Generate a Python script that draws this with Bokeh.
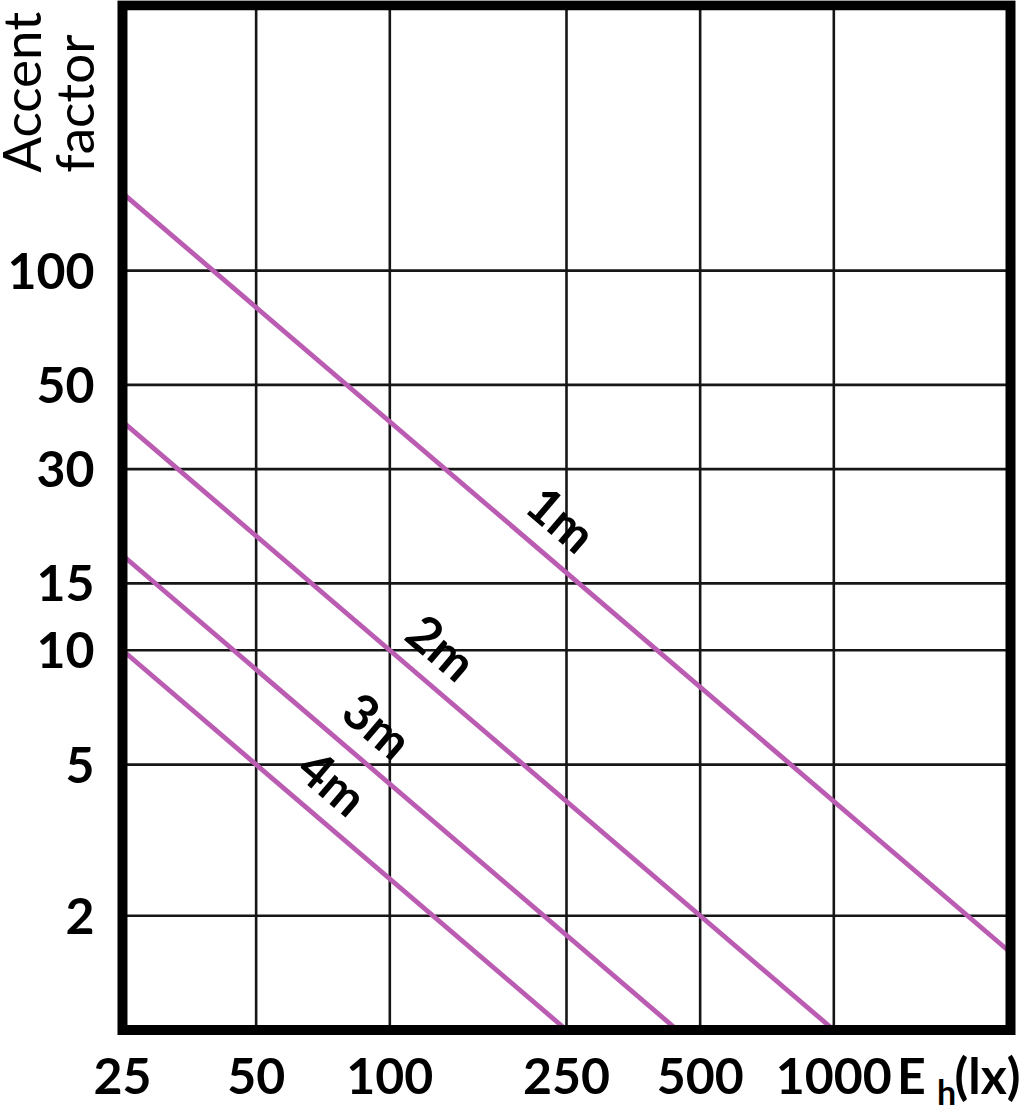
from bokeh.plotting import figure
from bokeh.models import ColumnDataSource, FixedTicker, Range1d
from bokeh.core.properties import value
from bokeh.embed import file_html
from bokeh.resources import INLINE

# ---- data ----
X_MIN, X_MAX = 25, 2500          # plotted illuminance range (lx)
Y_MIN, Y_MAX = 1, 500            # plotted accent-factor range
x_ticks = [25, 50, 100, 250, 500, 1000]
x_grid = [50, 100, 250, 500, 1000]
y_ticks = [2, 5, 10, 15, 30, 50, 100]
distances = ["1m", "2m", "3m", "4m"]
line_x = [[25, 2500], [25, 1000], [25, 444], [25, 250]]
line_y = [[160, 1.6], [40, 1], [17.8, 1], [10, 1]]
label_x = [244, 131, 94, 74.5]
label_y = [22.2, 10.2, 6.35, 4.5]
x_title_parts = ["E", "(lx)"]          # E_h(lx), h drawn as subscript
x_title_pos = [1495, 2219]
x_title_sub = "h"
y_title_lines = ["Accent", "factor"]

FONT = "Lato"
LINE_COLOR = "#bb5cb3"
GRID_COLOR = "#161616"

# canvas covers the whole page; the chart box is drawn in data space
p = figure(frame_width=1020, frame_height=1114,
           x_axis_type="log", y_axis_type="log",
           x_range=Range1d(13.28, 2633), y_range=Range1d(0.599, 514.4),
           output_backend="svg", toolbar_location=None,
           min_border=0, outline_line_color=None)
p.background_fill_color = "white"
p.border_fill_color = "white"
p.xgrid.visible = False
p.ygrid.visible = False

# axes drawn at the edges of the chart box
xa, ya = p.xaxis[0], p.yaxis[0]
xa.fixed_location = Y_MIN
ya.fixed_location = X_MIN
for ax in (xa, ya):
    ax.axis_line_color = None
    ax.major_tick_line_color = None
    ax.minor_tick_line_color = None
    ax.major_label_text_font = FONT
    ax.major_label_text_font_style = "bold"
    ax.major_label_text_font_size = "50px"
    ax.major_label_text_color = "black"
xa.ticker = FixedTicker(ticks=x_ticks + x_title_pos, minor_ticks=[])
ya.ticker = FixedTicker(ticks=y_ticks, minor_ticks=[])
ov = {t: str(t) for t in x_ticks}
ov.update({t: s for t, s in zip(x_title_pos, x_title_parts)})
xa.major_label_overrides = ov
ya.major_label_overrides = {t: str(t) for t in y_ticks}
xa.major_label_standoff = 9
ya.major_label_standoff = 22

# grid lines inside the box
gv = ColumnDataSource(dict(x0=x_grid, y0=[Y_MIN] * len(x_grid),
                           x1=x_grid, y1=[Y_MAX] * len(x_grid)))
gh = ColumnDataSource(dict(x0=[X_MIN] * len(y_ticks), y0=y_ticks,
                           x1=[X_MAX] * len(y_ticks), y1=y_ticks))
for s in (gv, gh):
    p.segment("x0", "y0", "x1", "y1", source=s, line_color=GRID_COLOR,
              line_width=2.6)

# distance lines
src = ColumnDataSource(dict(xs=line_x, ys=line_y, name=distances))
p.multi_line("xs", "ys", source=src, line_color=LINE_COLOR, line_width=4.8)

# chart box
p.quad(left=[X_MIN], right=[X_MAX], bottom=[Y_MIN], top=[Y_MAX],
       fill_color=None, line_color="black", line_width=10,
       line_join="miter")

# line labels
lab = ColumnDataSource(dict(x=label_x, y=label_y, text=distances))
p.text("x", "y", text="text", source=lab, angle=-40.5, angle_units="deg",
       text_font=value(FONT), text_font_size="50px", text_font_style="bold",
       text_color="black", text_align="center", text_baseline="middle")

# subscript h of E_h
p.text(x=[1794], y=[0.689], text=[x_title_sub], text_font=value(FONT),
       text_font_size="34px", text_font_style="bold", text_color="black",
       text_align="center", text_baseline="alphabetic")

# y axis title, two rotated lines
p.text(x=[14.76, 19.39], y=[181, 181], text=y_title_lines, angle=90,
       angle_units="deg", text_font=value(FONT), text_font_size="53px",
       text_color="black", text_align="left", text_baseline="alphabetic")

open("out.html", "w").write(file_html(p, INLINE))
